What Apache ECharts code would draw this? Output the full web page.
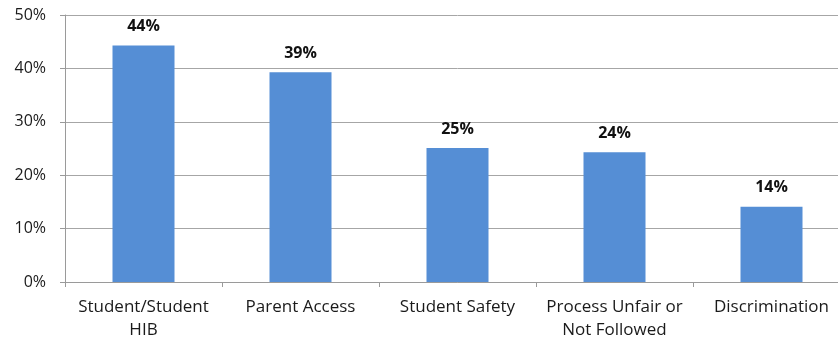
<!DOCTYPE html>
<html><head><meta charset="utf-8">
<script src="https://cdn.jsdelivr.net/npm/echarts@6/dist/echarts.min.js"></script>
<style>html,body{margin:0;padding:0;background:#fff;overflow:hidden}#c{width:850px;height:339px}</style>
</head><body><div id="c"></div>
<script>
const categories = ['Student/Student\nHIB', 'Parent Access', 'Student Safety', 'Process Unfair or\nNot Followed', 'Discrimination'];
const values = [44.3, 39.3, 25.1, 24.3, 14.1];
const yTicks = [0, 10, 20, 30, 40, 50];

const font = '"Open Sans", sans-serif';
const chart = echarts.init(document.getElementById('c'));
chart.setOption({
  animation: false,
  grid: { left: 65, top: 15, right: 0, bottom: 57, outerBoundsMode: 'none', containLabel: false },
  xAxis: {
    type: 'category', data: categories,
    axisLine: { lineStyle: { color: '#9a9a9a', width: 1 } },
    axisTick: { show: true, alignWithLabel: false, length: 5, lineStyle: { color: '#9a9a9a' } },
    axisLabel: { color: '#1a1a1a', fontSize: 17, fontFamily: font, margin: 14, lineHeight: 23, interval: 0 }
  },
  yAxis: {
    type: 'value', min: 0, max: 50, interval: 10,
    axisLine: { show: true, lineStyle: { color: '#9a9a9a' } },
    axisTick: { show: true, length: 5, lineStyle: { color: '#9a9a9a' } },
    splitLine: { lineStyle: { color: '#a6a6a6' } },
    axisLabel: { color: '#1a1a1a', fontSize: 16, fontFamily: font, margin: 19, formatter: v => v + '%' }
  },
  series: [{
    type: 'bar', data: values, barWidth: 62,
    itemStyle: { color: '#558ED5' },
    label: { show: true, position: 'top', distance: 11, color: '#111', fontWeight: 'bold', fontSize: 16, fontFamily: font,
      formatter: p => Math.round(p.value) + '%' }
  }]
});
</script></body></html>
